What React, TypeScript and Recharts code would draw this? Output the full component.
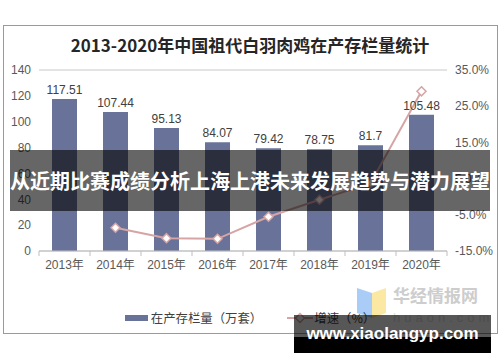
import React from 'react'
import {
  ComposedChart,
  Bar,
  Line,
  XAxis,
  YAxis,
  CartesianGrid,
  LabelList,
  Legend,
} from 'recharts'

// values
const years = ['2013年', '2014年', '2015年', '2016年', '2017年', '2018年', '2019年', '2020年']
const stock = [117.51, 107.44, 95.13, 84.07, 79.42, 78.75, 81.7, 105.48]
const growth = [null, -8.57, -11.46, -11.63, -5.53, -0.84, 3.75, 29.11]
const leftTicks = [0, 20, 40, 60, 80, 100, 120, 140]
const rightTicks = [-15, -10, -5, 0, 5, 10, 15, 20, 25, 30, 35]

const data = years.map((year, i) => ({ year, stock: stock[i], growth: growth[i] }))

const BAR_COLOR = '#69739A'
const LINE_COLOR = '#D6A4A4'
const TICK_FONT = '"Liberation Sans", Arial, "Noto Sans CJK SC", sans-serif'

const Diamond = (props: any) => {
  const { cx, cy, value } = props
  if (value == null || cx == null || cy == null) return null
  const r = 4.5
  return (
    <path
      d={`M${cx},${cy - r} L${cx + r},${cy} L${cx},${cy + r} L${cx - r},${cy} Z`}
      fill="#fff"
      stroke={LINE_COLOR}
      strokeWidth={1.5}
    />
  )
}

const XTick = (props: any) => {
  const { x, y, payload, index } = props
  const half = 25.5
  return (
    <g>
      <line x1={x - half} x2={x - half} y1={y - 8} y2={y - 3} stroke="#bfbfbf" />
      {index === years.length - 1 && (
        <line x1={x + half} x2={x + half} y1={y - 8} y2={y - 3} stroke="#bfbfbf" />
      )}
      <text x={x} y={y + 10} textAnchor="middle" fontSize={12} fill="#595959" fontFamily={TICK_FONT}>
        {payload.value}
      </text>
    </g>
  )
}

const LegendContent = () => (
  <div
    style={{
      display: 'flex',
      justifyContent: 'center',
      alignItems: 'center',
      fontSize: 12.4,
      color: '#404040',
      fontFamily: '"Noto Sans CJK SC", sans-serif',
    }}
  >
    <svg width={26} height={10}>
      <rect x={0} y={2} width={23} height={6} fill={BAR_COLOR} />
    </svg>
    <span>在产存栏量（万套）</span>
    <svg width={52} height={12} style={{ marginLeft: 25 }}>
      <line x1={0} x2={26} y1={6} y2={6} stroke={LINE_COLOR} strokeWidth={2} />
      <path d="M13,1.5 L17.5,6 L13,10.5 L8.5,6 Z" fill="#fff" stroke={LINE_COLOR} strokeWidth={1.5} />
    </svg>
    <span style={{ marginLeft: -25 }}>增速（%）</span>
  </div>
)

export default function App() {
  return (
    <div style={{ position: 'absolute', left: 0, top: 0, width: 500, height: 362, background: '#fff' }}>
      {/* frame */}
      <div
        style={{
          position: 'absolute',
          left: 3,
          top: 25,
          width: 493,
          height: 307,
          border: '1px solid #9a9a9a',
        }}
      />
      {/* watermark */}
      <svg width={500} height={362} style={{ position: 'absolute', left: 0, top: 0 }}>
        <path d="M357,288 L372,293 L372,318 L357,313 Z" fill="#a9cdf6" />
        <path d="M372,293 L386,288 L386,313 L372,318 Z" fill="#fbe8a2" />
        <text x={393} y={302} fontSize={17} fontWeight="bold" fill="#cdcdcd" fontFamily='"Noto Sans CJK SC", sans-serif'>
          华经情报网
        </text>
        <text x={393} y={322} fontSize={13} fill="#e0e0e0" letterSpacing={4} fontFamily={TICK_FONT}>
          huaon.com
        </text>
      </svg>
      <div
        style={{
          position: 'absolute',
          left: 0,
          top: 34,
          width: 500,
          textAlign: 'center',
          fontSize: 17,
          fontWeight: 'bold',
          color: '#262626',
          fontFamily: '"Noto Sans CJK SC", serif',
          lineHeight: '22px',
        }}
      >
        2013-2020年中国祖代白羽肉鸡在产存栏量统计
      </div>
      <div style={{ position: 'absolute', left: 0, top: 0 }}>
        <ComposedChart
          width={500}
          height={362}
          data={data}
          margin={{ top: 70, right: 13, left: 9, bottom: 63 }}
        >
          <CartesianGrid vertical={false} stroke="#c8c8c8" />
          <XAxis
            dataKey="year"
            height={30}
            axisLine={{ stroke: '#bfbfbf' }}
            tickLine={false}
            tick={<XTick />}
            interval={0}
          />
          <YAxis
            yAxisId="left"
            width={30}
            domain={[0, 140]}
            ticks={leftTicks}
            axisLine={false}
            tickLine={false}
            tick={{ fontSize: 12, fill: '#595959', fontFamily: TICK_FONT }}
          />
          <YAxis
            yAxisId="right"
            orientation="right"
            width={40}
            domain={[-15, 35]}
            ticks={rightTicks}
            axisLine={false}
            tickLine={false}
            tickFormatter={(v: number) => v.toFixed(1) + '%'}
            tick={{ fontSize: 12, fill: '#595959', fontFamily: TICK_FONT, textAnchor: 'start' }}
          />
          <Bar yAxisId="left" dataKey="stock" fill={BAR_COLOR} barSize={25} isAnimationActive={false}>
            <LabelList
              dataKey="stock"
              position="top"
              offset={5}
              style={{ fontSize: 12, fill: '#404040', fontFamily: TICK_FONT }}
            />
          </Bar>
          <Line
            yAxisId="right"
            dataKey="growth"
            stroke={LINE_COLOR}
            strokeWidth={2}
            dot={<Diamond />}
            activeDot={false}
            isAnimationActive={false}
          />
          <Legend
            content={<LegendContent />}
            wrapperStyle={{ position: 'absolute', top: 309, left: 0, width: 500 }}
          />
        </ComposedChart>
      </div>
      {/* overlay banners */}
      <div
        style={{
          position: 'absolute',
          left: 10,
          top: 150,
          width: 480,
          height: 61,
          background: 'rgba(0,0,0,0.6)',
          color: '#fff',
          fontSize: 20,
          fontWeight: 'bold',
          fontFamily: '"Noto Sans CJK SC", sans-serif',
          lineHeight: '61px',
          textAlign: 'center',
          whiteSpace: 'nowrap',
        }}
      >
        从近期比赛成绩分析上海上港未来发展趋势与潜力展望
      </div>
      <div
        style={{
          position: 'absolute',
          left: 294,
          top: 315,
          width: 197,
          height: 22,
          background: 'rgba(0,0,0,0.66)',
        }}
      />
      <div style={{ position: 'absolute', left: 294, top: 337, width: 197, height: 16, background: '#000' }} />
      <div
        style={{
          position: 'absolute',
          left: 294,
          top: 315,
          width: 197,
          height: 38,
          color: '#fff',
          fontSize: 17,
          fontWeight: 'bold',
          fontFamily: '"Liberation Sans", Arial, sans-serif',
          lineHeight: '38px',
          textAlign: 'center',
          whiteSpace: 'nowrap',
        }}
      >
        www.xiaolangyp.com
      </div>
    </div>
  )
}
